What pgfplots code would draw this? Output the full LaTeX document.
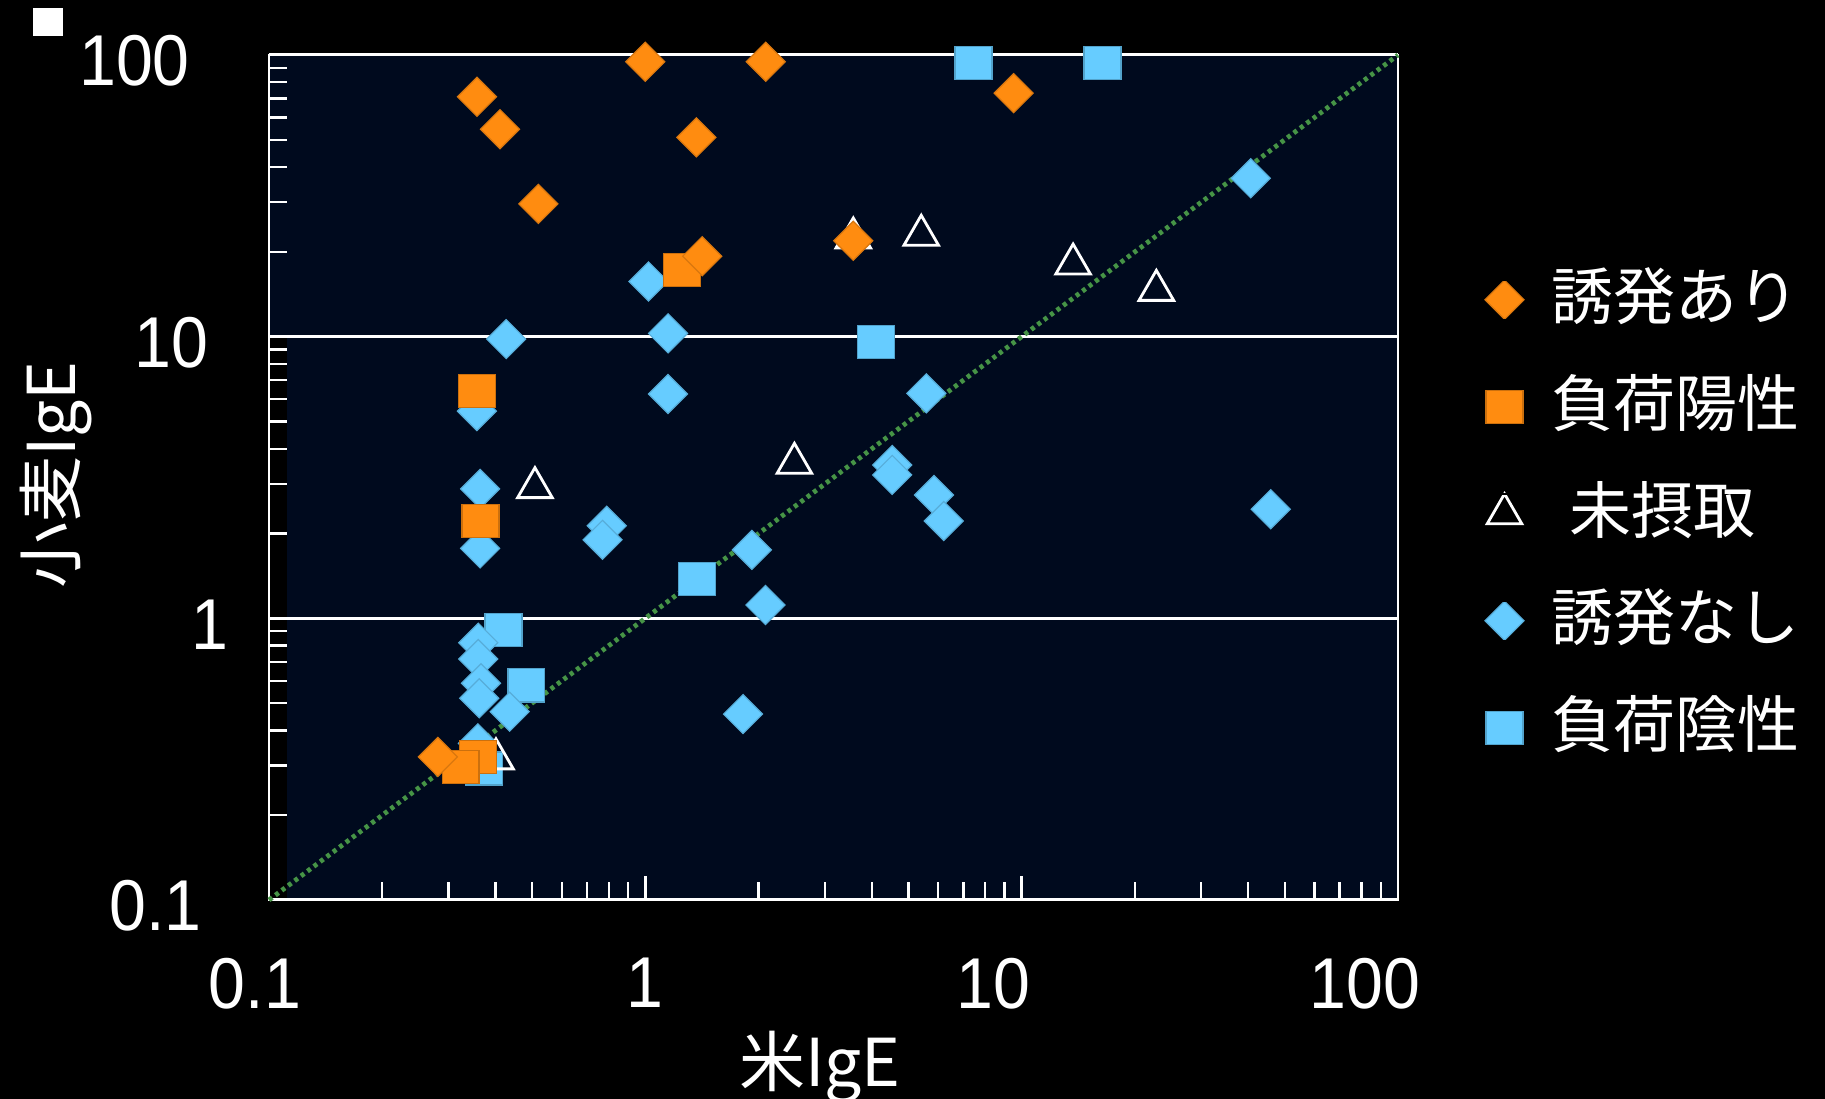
\documentclass[border=0pt]{standalone}
\usepackage{fontspec}
\setmainfont{Liberation Sans}
\newfontfamily\jp{Noto Sans CJK JP}
\newfontfamily\numfont[FakeStretch=0.92]{Liberation Sans}
\usepackage{pgfplots}
\pgfplotsset{compat=1.18}
\definecolor{bgnavy}{RGB}{0,10,30}
\definecolor{org}{RGB}{255,140,16}
\definecolor{sky}{RGB}{102,204,255}
\definecolor{dotg}{RGB}{70,148,70}
\begin{document}
\begin{tikzpicture}
\fill[black] (-67.25pt,-49.75pt) rectangle (389pt,225pt);
\useasboundingbox (-67.25pt,-49.75pt) rectangle (389pt,225pt);
\fill[bgnavy] (4.5pt,0pt) rectangle (282.25pt,211.25pt);
\fill[bgnavy] (0pt,140.83pt) rectangle (4.5pt,211.25pt);
\fill[white] (-59pt,216pt) rectangle (-51.5pt,223pt);
\begin{axis}[
  at={(0pt,0pt)}, anchor=south west, scale only axis,
  width=282.25pt, height=211.25pt,
  xmode=log, ymode=log,
  xmin=0.1, xmax=100, ymin=0.1, ymax=100,
  clip=false,
  axis line style={white, line width=0.65pt},
  tick style={white, line width=0.6pt},
  tick align=inside, xtick pos=bottom, ytick pos=left,
  major tick length=6pt, minor tick length=4.4pt,
  xtick={0.1,1,10,100}, ytick={0.1,1,10,100},
  minor xtick={0.2,0.3,0.4,0.5,0.6,0.7,0.8,0.9,2,3,4,5,6,7,8,9,20,30,40,50,60,70,80,90},
  minor ytick={0.2,0.3,0.4,0.5,0.6,0.7,0.8,0.9,2,3,4,5,6,7,8,9,20,30,40,50,60,70,80,90},
  ymajorgrids, major grid style={white, line width=0.75pt},
  xticklabels={{0.1\hspace*{7pt}},{1},{10\hspace*{14pt}},{100\hspace*{16.6pt}}},
  yticklabels={{0.1\hspace*{16.7pt}},{1\hspace*{9.9pt}},{10\hspace*{14.9pt}},{100\hspace*{19.6pt}}},
  ticklabel style={font=\numfont\fontsize{18}{20}\selectfont, text=white, inner sep=0pt},
  xticklabel style={anchor=north, yshift=-14.25pt},
  yticklabel style={anchor=east, yshift=-1.5pt},
  xlabel={米IgE}, ylabel={小麦IgE},
  every axis x label/.style={at={(axis description cs:0.488,-0.2213)}, anchor=base, font=\jp\fontsize{16.5}{18}\selectfont, text=white},
  every axis y label/.style={at={(axis description cs:-0.1718,0.503)}, rotate=90, anchor=base, font=\jp\fontsize{16.5}{18}\selectfont, text=white},
  reverse legend,
  legend cell align=left,
  legend image code/.code={\draw[#1] plot coordinates {(0pt,0pt)}; \path (-6pt,-5pt) rectangle (6pt,5pt);},
  legend style={at={(1.0717,0.7486)}, anchor=north west, draw=none, fill=none,
    inner sep=0pt, row sep=10.95pt, text=white,
    font=\jp\fontsize{15.5}{18}\selectfont,
    nodes={inner sep=0pt, text height=12.8pt, text depth=3pt},
    /tikz/every odd column/.append style={column sep=5.5pt}},
]
% 負荷陰性 (blue squares)
\addplot[only marks, mark=square*, mark size=4.4pt,
  mark options={xscale=1.05, yscale=0.94, fill=sky, draw=sky!80!black, line width=0.3pt}]
  coordinates {(7.45,93.8) (16.4,93.8) (4.10,9.59) (1.374,1.379) (0.420,0.909) (0.483,0.578) (0.372,0.293)};
\addlegendentry{負荷陰性}
% 誘発なし (blue diamonds)
\addplot[only marks, mark=square*, mark size=3.45pt,
  mark options={rotate=45, fill=sky, draw=sky!85!black, line width=0.3pt}]
  coordinates {(40.6,36.5) (1.02,15.7) (0.427,9.8) (1.149,10.27) (1.149,6.26) (0.357,5.44)
   (5.58,6.29) (0.364,2.88) (0.364,1.77) (4.53,3.50) (4.53,3.23) (5.85,2.74) (6.21,2.215)
   (45.9,2.44) (1.92,1.75) (2.085,1.115) (1.818,0.457) (0.79,2.13) (0.77,1.90)
   (0.360,0.819) (0.360,0.717) (0.366,0.588) (0.362,0.52) (0.436,0.466) (0.359,0.36)};
\addlegendentry{誘発なし}
% 未摂取 (open triangles)
\addplot[only marks, mark=triangle, mark size=5.0pt,
  mark options={draw=white, line width=0.7pt}]
  coordinates {(3.57,22.4) (5.41,22.9) (13.7,18.1) (22.8,14.6) (2.49,3.55) (0.509,2.91) (0.401,0.317)};
\addlegendentry{\hspace*{4.5pt}未摂取}
% 負荷陽性 (orange squares)
\addplot[only marks, mark=square*, mark size=4.4pt,
  mark options={xscale=1.05, yscale=0.94, fill=org, draw=org!80!black, line width=0.3pt}]
  coordinates {(1.25,17.2) (0.357,6.41) (0.365,2.215) (0.359,0.322) (0.323,0.297)};
\addlegendentry{負荷陽性}
% 誘発あり (orange diamonds)
\addplot[only marks, mark=square*, mark size=3.45pt,
  mark options={rotate=45, fill=org, draw=org!85!black, line width=0.3pt}]
  coordinates {(1.0,94.6) (2.09,94.6) (0.357,71.1) (0.411,54.5) (1.367,51.0) (0.52,29.6)
   (9.52,73.2) (1.416,19.3) (3.57,21.9) (0.281,0.322)};
\addlegendentry{誘発あり}
% y = x reference line
\addplot[forget plot, dotg, line width=1.2pt, dash pattern=on 1pt off 1pt]
  coordinates {(0.1,0.1) (100,100)};
\end{axis}
\end{tikzpicture}
\end{document}
